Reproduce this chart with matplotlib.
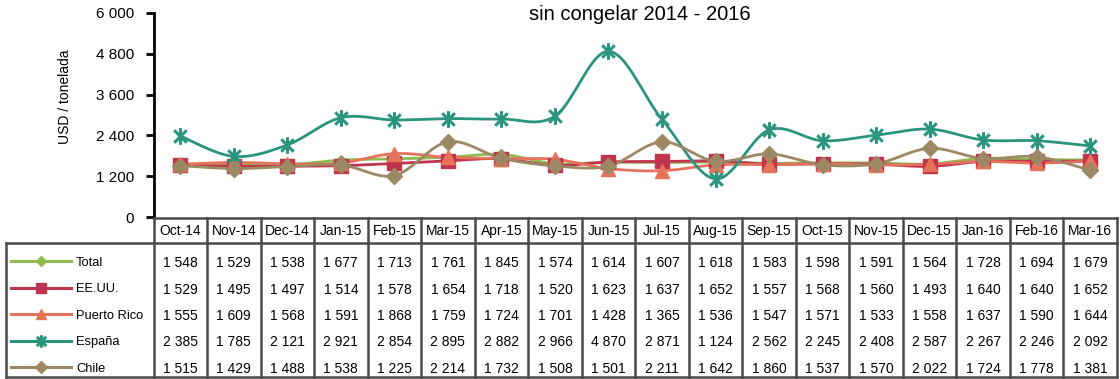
import numpy as np
import matplotlib.pyplot as plt
from matplotlib import font_manager
from matplotlib.path import Path

# fuente estrecha si existe; si no, Liberation Sans algo mas pequena
disponibles = {f.name for f in font_manager.fontManager.ttflist}
if "Liberation Sans Narrow" in disponibles:
    plt.rcParams['font.family'] = ['Liberation Sans Narrow', 'DejaVu Sans']
    fs_tabla, fs_leyenda, fs_ejes = 11, 11, 11.5
else:
    plt.rcParams['font.family'] = ['Liberation Sans', 'DejaVu Sans']
    fs_tabla, fs_leyenda, fs_ejes = 10, 9.3, 11

# datos mensuales (USD / tonelada)
meses = ["Oct-14", "Nov-14", "Dec-14", "Jan-15", "Feb-15", "Mar-15", "Apr-15", "May-15", "Jun-15",
         "Jul-15", "Aug-15", "Sep-15", "Oct-15", "Nov-15", "Dec-15", "Jan-16", "Feb-16", "Mar-16"]
total = [1548, 1529, 1538, 1677, 1713, 1761, 1845, 1574, 1614, 1607, 1618, 1583, 1598, 1591, 1564, 1728, 1694, 1679]
eeuu = [1529, 1495, 1497, 1514, 1578, 1654, 1718, 1520, 1623, 1637, 1652, 1557, 1568, 1560, 1493, 1640, 1640, 1652]
puerto_rico = [1555, 1609, 1568, 1591, 1868, 1759, 1724, 1701, 1428, 1365, 1536, 1547, 1571, 1533, 1558, 1637, 1590, 1644]
espana = [2385, 1785, 2121, 2921, 2854, 2895, 2882, 2966, 4870, 2871, 1124, 2562, 2245, 2408, 2587, 2267, 2246, 2092]
chile = [1515, 1429, 1488, 1538, 1225, 2214, 1732, 1508, 1501, 2211, 1642, 1860, 1537, 1570, 2022, 1724, 1778, 1381]

series = ["Total", "EE.UU.", "Puerto Rico", "España", "Chile"]
valores = [total, eeuu, puerto_rico, espana, chile]

# marcador estrella (cruz + linea vertical)
estrella = Path([(0, -1), (0, 1), (-0.75, -0.75), (0.75, 0.75), (-0.75, 0.75), (0.75, -0.75)],
                [Path.MOVETO, Path.LINETO] * 3)

estilos = {
    "Total": dict(color="#8dbb52", marker="D", ms=5.5, mfc="#8dbb52", mec="#8dbb52"),
    "EE.UU.": dict(color="#c0344e", marker="s", ms=10, mfc="#c0344e", mec="#c0344e"),
    "Puerto Rico": dict(color="#e4735a", marker="^", ms=9.5, mfc="#e4735a", mec="#e4735a"),
    "España": dict(color="#2a957c", marker=estrella, ms=12, mew=2.2, mec="#2a957c"),
    "Chile": dict(color="#9c8863", marker="D", ms=8, mfc="#9c8863", mec="#9c8863"),
}


def suavizar(y, n=20):
    # curva Bezier tipo Catmull-Rom, como las lineas suavizadas de Excel
    y = np.asarray(y, dtype=float)
    x = np.arange(len(y), dtype=float)
    px, py = [], []
    for i in range(len(y) - 1):
        i0, i3 = max(i - 1, 0), min(i + 2, len(y) - 1)
        c1 = (x[i] + (x[i + 1] - x[i0]) / 6, y[i] + (y[i + 1] - y[i0]) / 6)
        c2 = (x[i + 1] - (x[i3] - x[i]) / 6, y[i + 1] - (y[i3] - y[i]) / 6)
        t = np.linspace(0, 1, n, endpoint=False)
        b = [(1 - t) ** 3, 3 * (1 - t) ** 2 * t, 3 * (1 - t) * t ** 2, t ** 3]
        px.extend(b[0] * x[i] + b[1] * c1[0] + b[2] * c2[0] + b[3] * x[i + 1])
        py.extend(b[0] * y[i] + b[1] * c1[1] + b[2] * c2[1] + b[3] * y[i + 1])
    px.append(x[-1])
    py.append(y[-1])
    return np.array(px), np.array(py)


W, H = 1120, 379
fig = plt.figure(figsize=(W / 100, H / 100), dpi=100)

x0, x1 = 153.5, 1117
ax = fig.add_axes([x0 / W, 1 - 217.3 / H, (x1 - x0) / W, (217.3 - 12.7) / H])
n = len(meses)
for nombre, y in zip(series, valores):
    st = estilos[nombre]
    sx, sy = suavizar(y)
    ax.plot(sx, sy, color=st["color"], lw=2, solid_capstyle="round", zorder=2)
    ax.plot(np.arange(n), y, ls="none", marker=st["marker"], ms=st["ms"],
            mfc=st.get("mfc", "none"), mec=st["mec"], mew=st.get("mew", 1), zorder=3)

ax.set_xlim(-0.5, n - 0.5)
ax.set_ylim(0, 6000)
ax.set_yticks(np.arange(0, 6001, 1200))
ax.set_yticklabels([f"{v:,}".replace(",", " ") for v in range(0, 6001, 1200)], fontsize=fs_ejes)
ax.tick_params(axis="y", length=6, width=2, direction="out", pad=8)
ax.set_xticks([])
for s in ["top", "right", "bottom"]:
    ax.spines[s].set_visible(False)
ax.spines["left"].set_linewidth(2)
ax.patch.set_alpha(0)

fig.text(640 / W, 1 - 14 / H, "sin congelar 2014 - 2016", ha="center", va="center", fontsize=14.5)
fig.text(65 / W, 1 - 97 / H, "USD / tonelada", rotation=90, ha="center", va="center", fontsize=10)

# tabla de datos bajo el grafico, en coordenadas de pixel
tab = fig.add_axes([0, 0, 1, 1])
tab.set_xlim(0, W)
tab.set_ylim(H, 0)
tab.axis("off")
borde = dict(color="#4a4a4a", lw=1.8)
col_w = (x1 - x0) / n
y_top, y_hdr, y_bot = 217.5, 243, 377
x_leg = 6

tab.plot([x0, x1], [y_top, y_top], **borde)
tab.plot([x_leg, x1], [y_hdr, y_hdr], **borde)
tab.plot([x_leg, x1], [y_bot, y_bot], **borde)
tab.plot([x_leg, x_leg], [y_hdr, y_bot], **borde)
for j in range(n + 1):
    xv = x0 + j * col_w
    tab.plot([xv, xv], [y_top, y_bot], **borde)

for j, m in enumerate(meses):
    tab.text(x0 + (j + 0.5) * col_w, 231, m, ha="center", va="center", fontsize=fs_tabla)

fila_y = [263 + 26.5 * i for i in range(len(series))]
for nombre, y, fy in zip(series, valores, fila_y):
    st = estilos[nombre]
    tab.plot([11, 71], [fy - 2, fy - 2], color=st["color"], lw=2.2)
    ms = st["ms"] * (0.75 if nombre != "Total" else 0.9)
    tab.plot([41], [fy - 2], marker=st["marker"], ms=ms, mfc=st.get("mfc", "none"),
             mec=st["mec"], mew=st.get("mew", 1), ls="none")
    tab.text(76, fy, nombre, ha="left", va="center", fontsize=fs_leyenda)
    for j, v in enumerate(y):
        tab.text(x0 + (j + 0.5) * col_w, fy, f"{v:,}".replace(",", " "),
                 ha="center", va="center", fontsize=fs_tabla)

fig.savefig("out.png", dpi=100)
